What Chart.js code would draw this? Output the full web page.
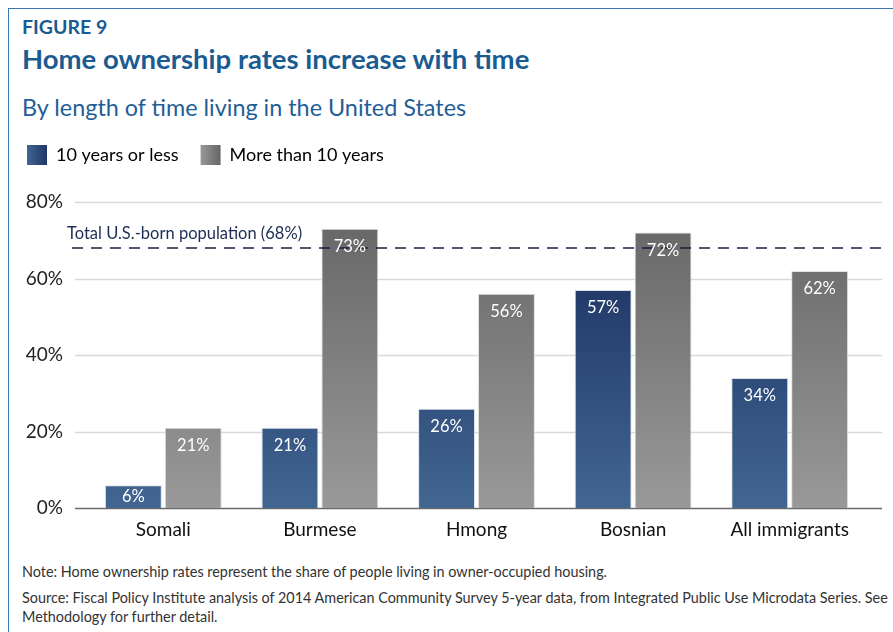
<!DOCTYPE html>
<html>
<head>
<meta charset="utf-8">
<script src="https://cdn.jsdelivr.net/npm/chart.js@4"></script>
<style>
  html, body { margin: 0; padding: 0; background: #fff; }
  body { width: 893px; height: 632px; position: relative; overflow: hidden; font-family: Lato, "Open Sans", sans-serif; }
  .frame { position: absolute; left: 8px; top: 8px; right: -2px; bottom: -2px; border-left: 1.5px solid #3a78b5; border-top: 1.5px solid #3a78b5; }
  .fig { position: absolute; left: 22px; top: 15px; font-size: 19.5px; font-weight: bold; color: #1a5b92; }
  .title { position: absolute; left: 22px; top: 42px; font-size: 27.5px; font-weight: bold; color: #1a5b92; white-space: nowrap; }
  .sub { position: absolute; left: 22px; top: 93px; font-size: 23.4px; color: #1f5e96; white-space: nowrap; }
  .notes { position: absolute; left: 22px; top: 562px; font-size: 14.4px; color: #333; white-space: nowrap; line-height: 19px; }
  .notes p { margin: 0 0 7px 0; }
  #chart { position: absolute; left: 0; top: 123px; }
</style>
</head>
<body>
<div class="frame"></div>
<div class="fig">FIGURE 9</div>
<div class="title">Home ownership rates increase with time</div>
<div class="sub">By length of time living in the United States</div>
<canvas id="chart" width="893" height="420"></canvas>
<div class="notes">
  <p>Note: Home ownership rates represent the share of people living in owner-occupied housing.</p>
  <p>Source: Fiscal Policy Institute analysis of 2014 American Community Survey 5-year data, from Integrated Public Use Microdata Series. See<br>Methodology for further detail.</p>
</div>
<script>
// groups on the x axis
const categories = ['Somali', 'Burmese', 'Hmong', 'Bosnian', 'All immigrants']
const seriesNames = ['10 years or less', 'More than 10 years']
const shortStay = [6, 21, 26, 57, 34]
const longStay = [21, 73, 56, 72, 62]
const yTicks = [0, 20, 40, 60, 80]
const usBornRate = 68
const usBornLabel = 'Total U.S.-born population (68%)'

const FONT = 'Lato, "Open Sans", sans-serif'

// vertical gradient across the whole plot, same as the printed figure
const plotGradient = (chart, top, bottom) => {
  const {ctx, chartArea, scales} = chart
  if (!chartArea) return bottom
  const g = ctx.createLinearGradient(0, scales.y.getPixelForValue(80), 0, scales.y.getPixelForValue(0))
  g.addColorStop(0, top)
  g.addColorStop(1, bottom)
  return g
}

const legendSwatch = (chart, x, light, dark) => {
  const g = chart.ctx.createLinearGradient(x, 0, x + 20, 0)
  g.addColorStop(0, light)
  g.addColorStop(1, dark)
  return g
}

// empty box between legend and plot
const spacerPlugin = {
  id: 'spacer',
  beforeInit(chart) {
    Chart.layouts.addBox(chart, {
      position: 'top',
      weight: 500,
      fullSize: true,
      options: {},
      width: 0,
      height: 0,
      update(maxWidth) { this.width = maxWidth; this.height = 27 },
      isHorizontal() { return true },
      draw() {}
    })
  }
}

const gridPlugin = {
  id: 'grid',
  beforeDatasetsDraw(chart) {
    const {ctx, chartArea, scales} = chart
    ctx.save()
    yTicks.forEach(v => {
      const y = Math.round(scales.y.getPixelForValue(v)) + 0.5
      ctx.beginPath()
      ctx.strokeStyle = v === 0 ? '#6a6a6a' : '#d9d9d9'
      ctx.lineWidth = 1.5
      ctx.moveTo(chartArea.left - 10, y)
      ctx.lineTo(chartArea.right + 14, y)
      ctx.stroke()
    })
    ctx.restore()
  }
}

const refLinePlugin = {
  id: 'refLine',
  afterDatasetsDraw(chart) {
    const {ctx, chartArea, scales} = chart
    const y = scales.y.getPixelForValue(usBornRate)
    ctx.save()
    ctx.beginPath()
    ctx.setLineDash([11, 8])
    ctx.strokeStyle = '#14213f'
    ctx.lineWidth = 1.6
    ctx.moveTo(chartArea.left - 13, y)
    ctx.lineTo(chartArea.right + 14, y)
    ctx.stroke()
    ctx.setLineDash([])
    ctx.fillStyle = '#1c2d55'
    ctx.font = '16.5px ' + FONT
    ctx.textAlign = 'left'
    ctx.textBaseline = 'alphabetic'
    ctx.fillText(usBornLabel, chartArea.left - 18, y - 9)

    // value labels inside the bars
    ctx.fillStyle = '#fff'
    ctx.font = '16.5px ' + FONT
    ctx.textAlign = 'center'
    ctx.textBaseline = 'middle'
    chart.data.datasets.forEach((ds, i) => {
      chart.getDatasetMeta(i).data.forEach((bar, j) => {
        const off = Math.min(18, (bar.base - bar.y) / 2)
        ctx.fillText(ds.data[j] + '%', bar.x, bar.y + off)
      })
    })
    ctx.restore()
  }
}

new Chart(document.getElementById('chart'), {
  type: 'bar',
  data: {
    labels: categories,
    datasets: [
      {
        label: seriesNames[0],
        data: shortStay,
        backgroundColor: ctx => plotGradient(ctx.chart, '#15295a', '#426692'),
        borderColor: 'rgba(215,220,228,0.9)',
        borderWidth: 1,
        borderSkipped: 'bottom'
      },
      {
        label: seriesNames[1],
        data: longStay,
        backgroundColor: ctx => plotGradient(ctx.chart, '#646464', '#999999'),
        borderColor: 'rgba(220,220,220,0.9)',
        borderWidth: 1,
        borderSkipped: 'bottom'
      }
    ]
  },
  options: {
    responsive: false,
    animation: false,
    events: [],
    layout: { padding: { left: 5, right: 25, top: 0, bottom: 0 } },
    datasets: { bar: { categoryPercentage: 0.765, barPercentage: 0.95 } },
    plugins: {
      tooltip: { enabled: false },
      legend: {
        position: 'top',
        align: 'start',
        labels: {
          boxWidth: 20,
          boxHeight: 20,
          padding: 22,
          color: '#111',
          font: { family: FONT, size: 18 },
          generateLabels: chart => chart.data.datasets.map((ds, i) => ({
            text: ds.label,
            fillStyle: i === 0
              ? legendSwatch(chart, 27, '#416592', '#1f3768')
              : legendSwatch(chart, 200, '#9a9a9a', '#666666'),
            strokeStyle: 'transparent',
            lineWidth: 0,
            datasetIndex: i
          }))
        }
      }
    },
    scales: {
      x: {
        grid: { display: false },
        border: { display: false },
        ticks: { color: '#111', padding: 2, font: { family: FONT, size: 19 } }
      },
      y: {
        min: 0,
        max: 80,
        afterFit: scale => { scale.width = 80 },
        afterBuildTicks: scale => { scale.ticks = yTicks.map(v => ({ value: v })) },
        grid: { display: false },
        border: { display: false },
        ticks: { color: '#222', padding: 14, font: { family: FONT, size: 19 }, callback: v => v + '%' }
      }
    }
  },
  plugins: [spacerPlugin, gridPlugin, refLinePlugin]
})
</script>
</body>
</html>
